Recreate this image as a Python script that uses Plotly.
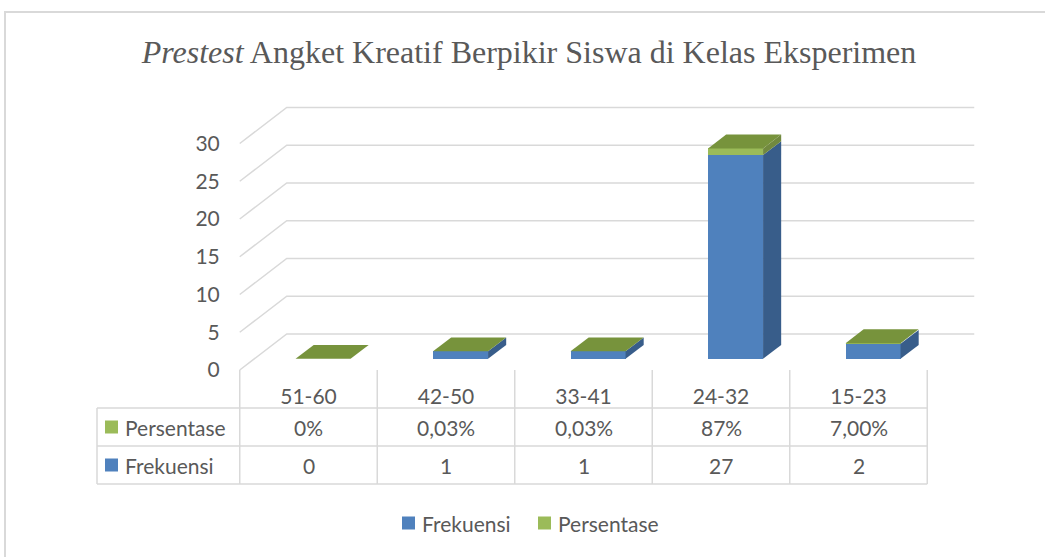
import plotly.graph_objects as go

# ---------------- data ----------------
categories = ["51-60", "42-50", "33-41", "24-32", "15-23"]
frekuensi = [0, 1, 1, 27, 2]
persentase = [0.0, 0.0003, 0.0003, 0.87, 0.07]
persentase_labels = ["0%", "0,03%", "0,03%", "87%", "7,00%"]
y_ticks = [0, 5, 10, 15, 20, 25, 30]
series_names = ["Frekuensi", "Persentase"]
title_text = "<i>Prestest</i> Angket Kreatif Berpikir Siswa di Kelas Eksperimen"

# ---------------- styling / geometry ----------------
W, H = 1045, 557
CAT_PX0, CAT_STEP = 308.5, 137.5      # pixel centre of first category, px per category
Y0_PX, Y_STEP = 370.0, 7.55           # pixel of value 0 at front plane, px per unit
DU = 47 / CAT_STEP                    # depth offset in x units
DV = 36 / Y_STEP                      # depth offset in y units
D0, D1 = 0.31, 0.695                  # bar depth (front, back) fraction
BAR_W = 0.4

BLUE, BLUE_SIDE = "#4F81BD", "#385D8A"
GREEN, GREEN_SIDE, GREEN_TOP = "#9BBB59", "#71893F", "#77933C"
GRID = "#D9D9D9"
TXT = "#595959"
FONT = "Lato"
FS = 21

x_range = [(0 - CAT_PX0) / CAT_STEP, (W - CAT_PX0) / CAT_STEP]
y_range = [(Y0_PX - H) / Y_STEP, Y0_PX / Y_STEP]


def px_x(p):
    return p / W


def px_y(p):
    return 1 - p / H


fig = go.Figure()
shapes = []
annotations = []
n = len(categories)

# gridlines (side wall diagonals + back wall horizontals), behind bars
for v in y_ticks:
    shapes.append(dict(type="path", xref="x", yref="y", layer="below",
                       path=f"M {-0.5} {v} L {-0.5 + DU} {v + DV} L {n - 0.5 + DU} {v + DV}",
                       line=dict(color=GRID, width=1.5)))

# front faces via bars
base0 = DV * D0
xs = [i + DU * D0 for i in range(n)]
fig.add_trace(go.Bar(
    x=xs, y=frekuensi, base=[base0] * n, width=BAR_W, name=series_names[0],
    marker=dict(color=BLUE, line=dict(width=0)), showlegend=False))
fig.add_trace(go.Bar(
    x=xs, y=persentase, base=[base0 + f for f in frekuensi], width=BAR_W,
    name=series_names[1], marker=dict(color=GREEN, line=dict(width=0)), showlegend=False))

# 3D side and top faces derived from the data
dU = DU * (D1 - D0)
dV = DV * (D1 - D0)
for i in range(n):
    xl = xs[i] - BAR_W / 2
    xr = xs[i] + BAR_W / 2
    segs = [(base0, base0 + frekuensi[i], BLUE_SIDE),
            (base0 + frekuensi[i], base0 + frekuensi[i] + persentase[i], GREEN_SIDE)]
    for b, t, c in segs:
        if t - b <= 0:
            continue
        fig.add_trace(go.Scatter(
            x=[xr, xr + dU, xr + dU, xr, xr], y=[b, b + dV, t + dV, t, b],
            mode="lines", fill="toself", fillcolor=c, line=dict(width=0, color=c),
            showlegend=False, hoverinfo="skip"))
    top = base0 + frekuensi[i] + persentase[i]
    fig.add_trace(go.Scatter(
        x=[xl, xr, xr + dU, xl + dU, xl], y=[top, top, top + dV, top + dV, top],
        mode="lines", fill="toself", fillcolor=GREEN_TOP, line=dict(width=0, color=GREEN_TOP),
        showlegend=False, hoverinfo="skip"))

# ---------------- data table ----------------
line_style = dict(color=GRID, width=1.5)
col_edges = [-0.5 + k for k in range(n + 1)]
tbl_top, row1, row2, tbl_bot = 370, 408, 446, 484
tbl_left = 97
for ce in col_edges:
    xp = CAT_PX0 + ce * CAT_STEP
    shapes.append(dict(type="line", xref="paper", yref="paper",
                       x0=px_x(xp), x1=px_x(xp), y0=px_y(tbl_top), y1=px_y(tbl_bot), line=line_style))
x_right = CAT_PX0 + col_edges[-1] * CAT_STEP
for yp in [row1, row2, tbl_bot]:
    shapes.append(dict(type="line", xref="paper", yref="paper",
                       x0=px_x(tbl_left), x1=px_x(x_right), y0=px_y(yp), y1=px_y(yp), line=line_style))
shapes.append(dict(type="line", xref="paper", yref="paper",
                   x0=px_x(tbl_left), x1=px_x(tbl_left), y0=px_y(row1), y1=px_y(tbl_bot), line=line_style))

# legend keys inside the table
key_rows = [((row1 + row2) / 2, GREEN, series_names[1]), ((row2 + tbl_bot) / 2, BLUE, series_names[0])]
for yc, col, name in key_rows:
    shapes.append(dict(type="rect", xref="paper", yref="paper",
                       x0=px_x(105), x1=px_x(118), y0=px_y(yc - 6.5), y1=px_y(yc + 6.5),
                       fillcolor=col, line=dict(width=0)))
    annotations.append(dict(x=px_x(123), y=px_y(yc), xref="paper", yref="paper", text=name,
                            showarrow=False, xanchor="left", yanchor="middle",
                            font=dict(family=FONT, size=FS, color=TXT)))

for i in range(n):
    xp = CAT_PX0 + i * CAT_STEP
    annotations.append(dict(x=px_x(xp), y=px_y((row1 + row2) / 2), xref="paper", yref="paper",
                            text=persentase_labels[i], showarrow=False, xanchor="center", yanchor="middle",
                            font=dict(family=FONT, size=FS, color=TXT)))
    annotations.append(dict(x=px_x(xp), y=px_y((row2 + tbl_bot) / 2), xref="paper", yref="paper",
                            text=str(frekuensi[i]), showarrow=False, xanchor="center", yanchor="middle",
                            font=dict(family=FONT, size=FS, color=TXT)))

# ---------------- bottom legend ----------------
legend_items = [(402, BLUE, series_names[0]), (538, GREEN, series_names[1])]
for x0, col, name in legend_items:
    shapes.append(dict(type="rect", xref="paper", yref="paper",
                       x0=px_x(x0), x1=px_x(x0 + 13), y0=px_y(523 - 6.5), y1=px_y(523 + 6.5),
                       fillcolor=col, line=dict(width=0)))
    annotations.append(dict(x=px_x(x0 + 18), y=px_y(523), xref="paper", yref="paper", text=name,
                            showarrow=False, xanchor="left", yanchor="middle",
                            font=dict(family=FONT, size=FS, color=TXT)))

# outer chart border (left + top)
shapes.append(dict(type="path", xref="paper", yref="paper",
                   path=f"M {px_x(5)} {px_y(H + 5)} L {px_x(5)} {px_y(12)} L {px_x(W + 5)} {px_y(12)}",
                   line=dict(color=GRID, width=2)))

fig.update_layout(
    width=W, height=H, autosize=False,
    margin=dict(l=0, r=0, t=0, b=0),
    paper_bgcolor="white", plot_bgcolor="white",
    barmode="overlay", bargap=0, showlegend=False,
    title=dict(text=title_text, x=px_x(529), y=px_y(52), xanchor="center", yanchor="middle",
               xref="paper", yref="paper",
               font=dict(family="Liberation Serif", size=32, color=TXT)),
    xaxis=dict(range=x_range, tickvals=list(range(n)), ticktext=categories,
               anchor="free", position=px_y(Y0_PX), showgrid=False, zeroline=False,
               showline=False, ticks="", ticklabelstandoff=12,
               tickfont=dict(family=FONT, size=FS, color=TXT), fixedrange=True),
    yaxis=dict(range=y_range, tickvals=y_ticks, anchor="free",
               position=px_x(CAT_PX0 - 0.5 * CAT_STEP), showgrid=False, zeroline=False,
               showline=False, ticks="", ticklabelstandoff=20,
               tickfont=dict(family=FONT, size=FS, color=TXT), fixedrange=True),
    shapes=shapes, annotations=annotations,
)

fig.write_html("out.html", config={"displayModeBar": False},
               post_script="document.body.style.margin='0';")
